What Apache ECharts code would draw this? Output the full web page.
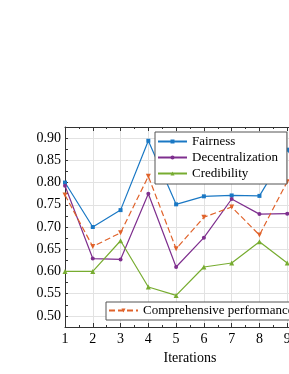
<!DOCTYPE html>
<html><head><meta charset="utf-8">
<script src="https://cdn.jsdelivr.net/npm/echarts@6/dist/echarts.min.js"></script>
<style>html,body{margin:0;padding:0;background:#fff}#c{width:289px;height:374px}</style>
</head><body><div id="c"></div>
<script>
const iterations = [1, 2, 3, 4, 5, 6, 7, 8, 9, 10];
const fairness = [0.800, 0.700, 0.738, 0.894, 0.751, 0.769, 0.771, 0.770, 0.874, 0.780];
const decentralization = [0.793, 0.629, 0.627, 0.775, 0.610, 0.676, 0.763, 0.729, 0.730];
const credibility = [0.600, 0.600, 0.669, 0.565, 0.546, 0.610, 0.619, 0.667, 0.619];
const comprehensive = [0.772, 0.656, 0.687, 0.814, 0.651, 0.722, 0.745, 0.682, 0.802];
const seriesNames = ['Fairness', 'Decentralization', 'Credibility', 'Comprehensive performance'];

const font = 'Liberation Serif';
function pairs(vals) { return vals.map((v, i) => [iterations[i], v]); }

const chart = echarts.init(document.getElementById('c'), null, {renderer: 'canvas'});
const axisLineStyle = {color: '#333', width: 1};
chart.setOption({
  animation: false,
  backgroundColor: '#fff',
  grid: {left: 65, top: 127, width: 250, height: 200, containLabel: false, outerBoundsMode: 'none'},
  xAxis: [{
    type: 'value', min: 1, max: 10, interval: 1, position: 'bottom',
    axisLine: {show: true, lineStyle: axisLineStyle},
    axisTick: {show: true, inside: true, length: 4, lineStyle: axisLineStyle},
    minorTick: {show: true, splitNumber: 2, length: 2, lineStyle: axisLineStyle},
    axisLabel: {color: '#000', fontFamily: font, fontSize: 14, margin: 5},
    splitLine: {show: true, lineStyle: {color: '#e2e2e2', width: 1}},
    name: 'Iterations', nameLocation: 'middle', nameGap: 24,
    nameTextStyle: {color: '#000', fontFamily: font, fontSize: 14}
  }, {
    type: 'value', min: 1, max: 10, interval: 1, position: 'top',
    axisLine: {show: true, lineStyle: axisLineStyle},
    axisTick: {show: true, inside: true, length: 4, lineStyle: axisLineStyle},
    minorTick: {show: true, splitNumber: 2, length: 2, lineStyle: axisLineStyle},
    axisLabel: {show: false}, splitLine: {show: false}
  }],
  yAxis: [{
    type: 'value', min: 0.475, max: 0.925, interval: 0.025,
    axisLine: {show: true, lineStyle: axisLineStyle},
    axisTick: {show: true, inside: true, length: 3, lineStyle: axisLineStyle},
    axisLabel: {color: '#000', fontFamily: font, fontSize: 14, margin: 4,
      formatter: v => (Math.round(v * 1000) % 50 === 0) ? v.toFixed(2) : ''},
    splitLine: {show: true, lineStyle: {color: ['rgba(0,0,0,0)', '#e2e2e2'], width: 1}}
  }],
  legend: [{
    data: seriesNames.slice(0, 3), orient: 'vertical', left: 155, top: 132,
    itemWidth: 29, itemHeight: 5, itemGap: 3,
    padding: [3, 9, 4, 2], borderColor: '#555', borderWidth: 1, borderRadius: 0,
    backgroundColor: '#fff',
    textStyle: {color: '#000', fontFamily: font, fontSize: 13}
  }, {
    data: [seriesNames[3]], orient: 'horizontal', left: 106, top: 302,
    itemWidth: 29, itemHeight: 5,
    padding: [2, 6, 3, 2], borderColor: '#555', borderWidth: 1, borderRadius: 0,
    backgroundColor: '#fff',
    textStyle: {color: '#000', fontFamily: font, fontSize: 13}
  }],
  series: [{
    name: seriesNames[0], type: 'line', data: pairs(fairness),
    color: '#1a78c4', symbol: 'rect', symbolSize: 4,
    lineStyle: {width: 1.2}, itemStyle: {color: '#1a78c4'}
  }, {
    name: seriesNames[1], type: 'line', data: pairs(decentralization),
    color: '#7e2f8e', symbol: 'circle', symbolSize: 4,
    lineStyle: {width: 1.2}, itemStyle: {color: '#7e2f8e'}
  }, {
    name: seriesNames[2], type: 'line', data: pairs(credibility),
    color: '#77ac30', symbol: 'triangle', symbolSize: 5,
    lineStyle: {width: 1.2}, itemStyle: {color: '#77ac30'}
  }, {
    name: seriesNames[3], type: 'line', data: pairs(comprehensive),
    color: '#e0622a', symbol: 'triangle', symbolRotate: 180, symbolSize: 5,
    lineStyle: {width: 1.2, type: [6, 3]}, itemStyle: {color: '#e0622a'}
  }]
});
</script>
</body></html>
